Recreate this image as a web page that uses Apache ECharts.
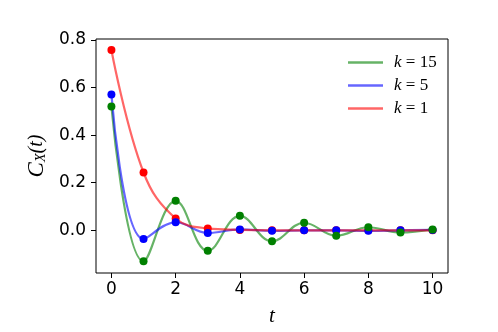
<!DOCTYPE html>
<html>
<head>
<meta charset="utf-8">
<script src="https://cdn.jsdelivr.net/npm/echarts@6/dist/echarts.min.js"></script>
<style>
  html, body { margin: 0; padding: 0; background: #fff; }
  #chart { width: 498px; height: 332px; }
</style>
</head>
<body>
<div id="chart"></div>
<script>
// sample times
const tVals = [0, 1, 2, 3, 4, 5, 6, 7, 8, 9, 10];
// C_X(t)
const k15Vals = [0.52, -0.13, 0.124, -0.086, 0.061, -0.046, 0.032, -0.023, 0.013, -0.009, 0.004];
const k5Vals = [0.57, -0.036, 0.034, -0.011, 0.004, -0.002, 0.0, 0.0, -0.002, 0.0, 0.002];
const k1Vals = [0.757, 0.243, 0.05, 0.008, 0.002, 0.0, 0.0, 0.0, 0.0, 0.0, 0.0];
// ticks
const xTicks = [0, 2, 4, 6, 8, 10];
const yTicks = [0, 0.2, 0.4, 0.6, 0.8];

const serif = "Liberation Serif";
const sans = "DejaVu Sans";

function pairs(vals) {
  return tVals.map((t, i) => [t, vals[i]]);
}

// one smooth line + one set of dots per k
const curves = [
  { name: "k=15", vals: k15Vals, line: "rgba(0,128,0,0.6)", dot: "#008000" },
  { name: "k=5", vals: k5Vals, line: "rgba(0,0,255,0.6)", dot: "#0000ff" },
  { name: "k=1", vals: k1Vals, line: "rgba(255,0,0,0.6)", dot: "#ff0000" },
];

let series = [];
curves.forEach((c) => {
  series.push({
    name: c.name,
    type: "line",
    data: pairs(c.vals),
    smooth: 0.4,
    showSymbol: false,
    lineStyle: { color: c.line, width: 2.2 },
    itemStyle: { color: c.line },
    z: 2,
  });
});
// dots on top, red first then blue then green
curves.slice().reverse().forEach((c, i) => {
  series.push({
    name: c.name + " pts",
    type: "scatter",
    data: pairs(c.vals),
    symbolSize: 8,
    itemStyle: { color: c.dot, opacity: 1 },
    z: 3 + i,
  });
});

const chart = echarts.init(document.getElementById("chart"));
chart.setOption({
  animation: false,
  backgroundColor: "#fff",
  grid: {
    left: 96, right: 50, top: 39, bottom: 57,
    show: true, borderColor: "#000", borderWidth: 1,
  },
  legend: {
    data: curves.map((c) => c.name),
    orient: "vertical",
    left: 343,
    top: 49,
    icon: "rect",
    itemWidth: 35,
    itemHeight: 2.5,
    itemGap: 6,
    formatter: (name) => "{i|k}{r| = " + name.split("=")[1] + "}",
    textStyle: {
      padding: [0, 0, 0, 6],
      rich: {
        i: { fontFamily: serif, fontStyle: "italic", fontSize: 17, color: "#000", lineHeight: 18 },
        r: { fontFamily: serif, fontSize: 17, color: "#000", lineHeight: 18 },
      },
    },
  },
  xAxis: {
    type: "value",
    min: -0.48,
    max: 10.48,
    name: "t",
    nameLocation: "middle",
    nameGap: 33,
    nameTextStyle: { fontFamily: serif, fontStyle: "italic", fontSize: 21, color: "#000" },
    axisLine: { show: false, onZero: false },
    axisTick: { show: true, length: 5, lineStyle: { color: "#000" }, customValues: xTicks },
    axisLabel: { fontFamily: sans, fontSize: 17, color: "#000", margin: 8, customValues: xTicks },
    splitLine: { show: false },
  },
  yAxis: {
    type: "value",
    min: -0.179,
    max: 0.8035,
    name: "{c|C}{s|X}{r|(t)}",
    nameLocation: "middle",
    nameRotate: 90,
    nameGap: 48,
    nameTextStyle: {
      rich: {
        c: { fontFamily: serif, fontStyle: "italic", fontSize: 23, color: "#000" },
        s: { fontFamily: serif, fontStyle: "italic", fontSize: 14, color: "#000", verticalAlign: "bottom", padding: [8, 0, 0, 0] },
        r: { fontFamily: serif, fontStyle: "italic", fontSize: 20, color: "#000" },
      },
    },
    axisLine: { show: false, onZero: false },
    axisTick: { show: true, length: 5, lineStyle: { color: "#000" }, customValues: yTicks },
    axisLabel: {
      fontFamily: sans, fontSize: 17, color: "#000", margin: 10,
      customValues: yTicks,
      formatter: (v) => v.toFixed(1),
    },
    splitLine: { show: false },
  },
  series: series,
});
</script>
</body>
</html>
